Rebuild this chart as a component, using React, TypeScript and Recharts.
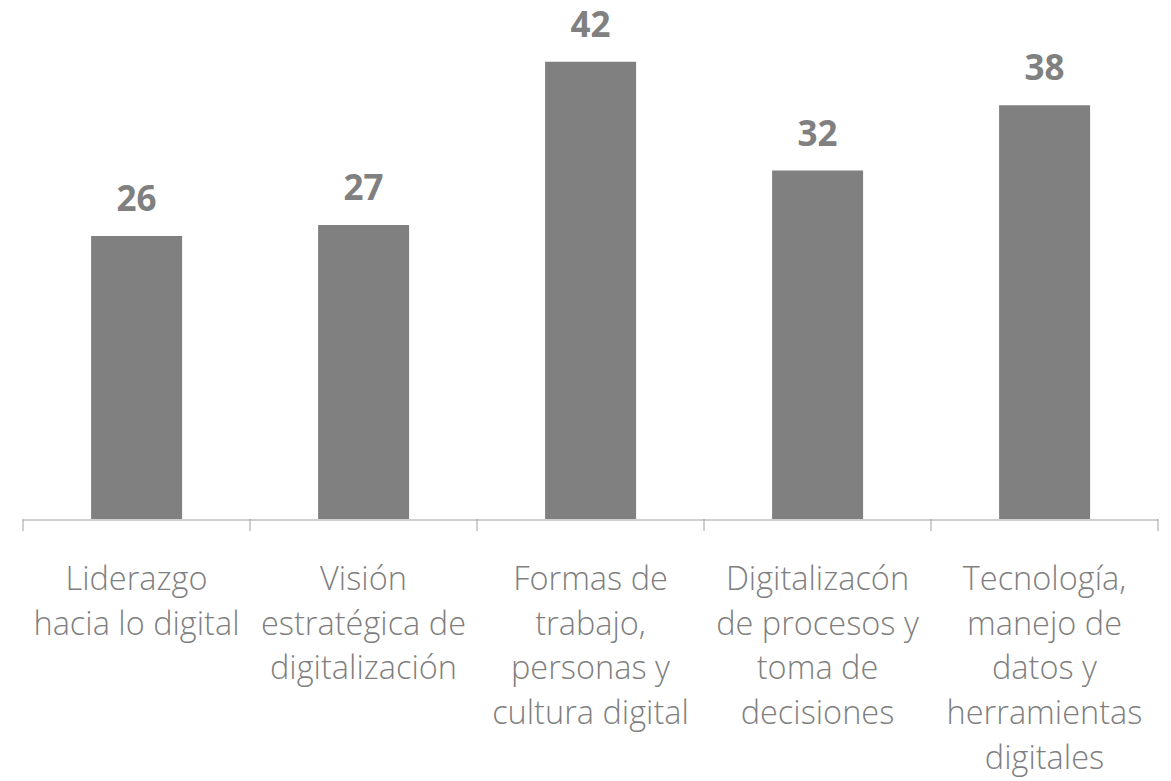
import { BarChart, Bar, XAxis, YAxis, LabelList } from 'recharts';

const CATEGORIES: string[] = [
  'Liderazgo\nhacia lo digital',
  'Visión\nestratégica de\ndigitalización',
  'Formas de\ntrabajo,\npersonas y\ncultura digital',
  'Digitalizacón\nde procesos y\ntoma de\ndecisiones',
  'Tecnología,\nmanejo de\ndatos y\nherramientas\ndigitales',
];
const VALUES: number[] = [26, 27, 42, 32, 38];
const EDGE_TICKS: number[] = [0, 1, 2, 3, 4, 5];

const data = CATEGORIES.map((c, i) => ({ name: c, value: VALUES[i], slot: i }));

const FONT = '"Open Sans", "Noto Sans", sans-serif';

function CategoryTick(props: any) {
  const { x, y, payload } = props;
  const lines = String(payload.value).split('\n');
  return (
    <text
      x={x}
      y={y + 70}
      textAnchor="middle"
      fill="#7f7f7f"
      style={{ fontFamily: FONT, fontSize: 32.5, fontWeight: 300 }}
    >
      {lines.map((l, i) => (
        <tspan key={i} x={x} dy={i === 0 ? 0 : 44.7}>
          {l}
        </tspan>
      ))}
    </text>
  );
}

const EmptyTick = () => <g />;

export default function App() {
  return (
    <div style={{ position: 'absolute', left: 0, top: 0, width: 1171, height: 781, background: '#fff' }}>
      <BarChart
        width={1171}
        height={781}
        data={data}
        margin={{ top: 29, right: 13, left: 23, bottom: 0 }}
        barCategoryGap="30%"
      >
        {/* boundary ticks between categories */}
        <XAxis
          xAxisId={0}
          type="number"
          dataKey="slot"
          domain={[0, EDGE_TICKS.length - 1]}
          ticks={EDGE_TICKS}
          tickCount={EDGE_TICKS.length}
          interval={0}
          tick={EmptyTick}
          tickSize={12}
          tickLine={{ stroke: '#a0a0a0' }}
          axisLine={false}
          height={1}
          allowDataOverflow
        />
        <XAxis
          xAxisId={1}
          dataKey="name"
          interval={0}
          tickLine={false}
          tickSize={0}
          tickMargin={0}
          axisLine={{ stroke: '#a0a0a0' }}
          height={261}
          tick={<CategoryTick />}
        />
        <YAxis hide domain={[0, 45]} />
        <Bar xAxisId={1} dataKey="value" fill="#808080" isAnimationActive={false}>
          <LabelList
            dataKey="value"
            position="top"
            offset={25}
            fill="#808080"
            style={{ fontFamily: FONT, fontSize: 35, fontWeight: 700 }}
          />
        </Bar>
      </BarChart>
    </div>
  );
}
